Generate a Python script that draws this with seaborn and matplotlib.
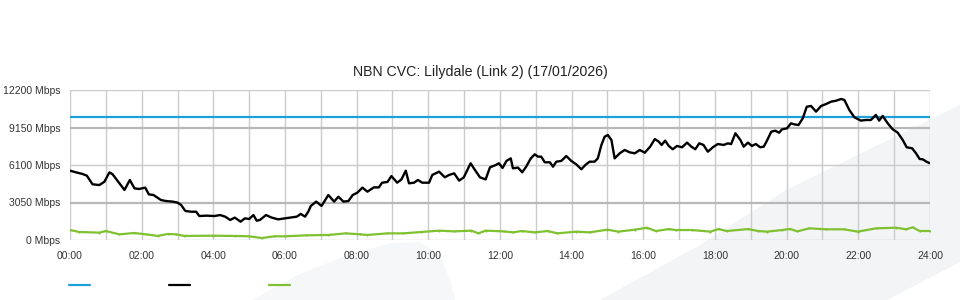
import matplotlib
matplotlib.use("Agg")
import matplotlib.pyplot as plt
from matplotlib.patches import Polygon
from matplotlib.lines import Line2D
import seaborn as sns
import pandas as pd

# ---------------- data ----------------
title = "NBN CVC: Lilydale (Link 2) (17/01/2026)"
capacity_mbps = 10000

traffic_hours = [
    0.00, 0.17, 0.35, 0.47, 0.63, 0.82, 0.96, 1.10, 1.19, 1.38, 1.52, 1.67, 1.80, 1.93,
    2.10, 2.20, 2.33, 2.54, 2.68, 2.87, 3.00, 3.10, 3.22, 3.38, 3.52, 3.61, 3.80, 4.03,
    4.19, 4.33, 4.47, 4.60, 4.76, 4.88, 5.00, 5.12, 5.21, 5.30, 5.47, 5.63, 5.81, 6.00,
    6.19, 6.33, 6.44, 6.56, 6.65, 6.72, 6.87, 7.02, 7.21, 7.37, 7.49, 7.63, 7.77, 7.89,
    8.02, 8.16, 8.30, 8.48, 8.62, 8.71, 8.86, 8.97, 9.13, 9.25, 9.37, 9.46, 9.60, 9.71,
    9.83, 10.02, 10.11, 10.30, 10.46, 10.58, 10.72, 10.86, 10.99, 11.18, 11.27, 11.44,
    11.60, 11.72, 11.88, 11.97, 12.07, 12.18, 12.30, 12.36, 12.50, 12.62, 12.73, 12.86,
    12.97, 13.06, 13.15, 13.25, 13.39, 13.48, 13.57, 13.71, 13.85, 13.99, 14.13, 14.27,
    14.38, 14.50, 14.64, 14.73, 14.83, 14.92, 15.01, 15.11, 15.20, 15.34, 15.48, 15.62,
    15.76, 15.90, 16.04, 16.19, 16.32, 16.43, 16.51, 16.61, 16.71, 16.82, 16.94, 17.08,
    17.22, 17.34, 17.45, 17.56, 17.68, 17.80, 17.94, 18.08, 18.24, 18.36, 18.45, 18.57,
    18.71, 18.80, 18.92, 19.03, 19.14, 19.26, 19.36, 19.45, 19.57, 19.68, 19.79, 19.87,
    20.01, 20.12, 20.21, 20.33, 20.45, 20.56, 20.68, 20.82, 20.96, 21.10, 21.24, 21.38,
    21.52, 21.61, 21.75, 21.89, 22.07, 22.21, 22.35, 22.49, 22.58, 22.68, 22.82, 22.96,
    23.10, 23.24, 23.35, 23.50, 23.61, 23.71, 23.80, 23.90, 24.00,
]
traffic_mbps = [
    5640, 5500, 5370, 5230, 4530, 4470, 4740, 5500, 5340, 4610, 4070, 4880, 4200, 4150,
    4260, 3710, 3660, 3250, 3170, 3120, 3040, 2850, 2360, 2300, 2300, 1950, 1980, 1950,
    2030, 1900, 1630, 1820, 1490, 1760, 1710, 2030, 1570, 1630, 2030, 1820, 1680, 1760,
    1840, 1900, 2120, 1900, 2310, 2770, 3120, 2770, 3660, 3120, 3520, 3120, 3170, 3660,
    3850, 4260, 3930, 4280, 4280, 4660, 4720, 5200, 4660, 4930, 5640, 4610, 4660, 4880,
    4660, 4660, 5290, 5560, 5100, 5290, 5420, 4830, 5100, 6240, 5830, 5100,
    4930, 5910, 6100, 6240, 5860, 6430, 6640, 5830, 5890, 5510, 5960, 6640,
    6970, 6780, 6780, 6320, 6320, 5960, 6370, 6430, 6830, 6430, 6150, 5750,
    6100, 6370, 6370, 6640, 7730, 8400, 8540, 8130, 6640, 7050, 7320, 7130,
    7050, 7320, 7100, 7590, 8210, 8000, 7730, 8080, 7650, 7380, 7650, 7540,
    7920, 7590, 7380, 7860, 7730, 7180, 7540, 7810, 7730, 7860, 7800, 8680,
    8130, 7590, 7920, 7650, 7810, 7540, 7590, 8080, 8810, 8890, 8730, 9000,
    9080, 9490, 9410, 9350, 9900, 10840, 10900, 10440, 10900, 11060, 11250, 11330,
    11470, 11390, 10570, 9980, 9710, 9760, 9760, 10170, 9710, 10090, 9490, 9000,
    8730, 8130, 7540, 7460, 7050, 6590, 6560, 6370, 6240,
]

other_hours = [
    0.00, 0.26, 0.82, 1.00, 1.38, 1.79, 2.12, 2.45, 2.73, 2.96, 3.19, 3.98, 4.60, 5.00,
    5.35, 5.70, 6.00, 6.60, 7.21, 7.70, 8.10, 8.30, 8.86, 9.30, 9.80, 10.30, 10.72, 11.20,
    11.40, 11.60, 12.10, 12.36, 12.60, 12.97, 13.33, 13.60, 14.13, 14.50, 15.00, 15.30,
    15.76, 16.10, 16.35, 16.71, 16.90, 17.36, 17.87, 18.10, 18.33, 18.93, 19.20, 19.45,
    19.87, 20.10, 20.30, 20.63, 21.10, 21.60, 21.98, 22.50, 23.06, 23.33, 23.52, 23.71,
    24.00,
]
other_mbps = [
    810, 650, 600, 730, 460, 570, 460, 330, 490, 460, 330, 350, 330, 300,
    160, 300, 300, 380, 410, 540, 460, 410, 540, 540, 650, 760, 700, 760,
    540, 760, 700, 620, 730, 620, 730, 540, 680, 620, 840, 680,
    840, 1000, 730, 890, 810, 810, 680, 890, 730, 890, 730, 680,
    810, 900, 700, 950, 870, 870, 680, 950, 1000, 870, 1030, 730,
    730,
]

capacity_hours = [0, 24]
y_ticks = [0, 3050, 6100, 9150, 12200]
y_tick_labels = ["0 Mbps", "3050 Mbps", "6100 Mbps", "9150 Mbps", "12200 Mbps"]
x_ticks = list(range(0, 25, 2))
x_tick_labels = [f"{h:02d}:00" for h in x_ticks]

# ---------------- style ----------------
sns.set_theme(style="white")
plt.rcParams["font.family"] = ["Liberation Sans", "DejaVu Sans"]

BLUE = "#1ea0dc"
BLACK = "#000000"
GREEN = "#7fc131"
GRID = "#cbcbcb"
GRID_DARK = "#b8b8b8"
TEXT = "#333333"

fig = plt.figure(figsize=(9.6, 3.0), dpi=100)
fig.patch.set_facecolor("white")

# decorative background swooshes (figure pixel coords, y from top)
def fig_poly(pts, color):
    poly = Polygon([(x / 960, 1 - y / 300) for x, y in pts], closed=True,
                   transform=fig.transFigure, facecolor=color, edgecolor="none", zorder=-10)
    fig.patches.append(poly)

fig_poly([(600, 300), (700, 245), (786, 190), (960, 105), (960, 262), (887, 300)], "#f3f4f6")
fig_poly([(252, 300), (300, 274), (350, 254), (392, 243), (420, 242), (440, 255),
          (450, 280), (455, 300)], "#f6f7f8")

ax = fig.add_axes([70 / 960, 1 - 240 / 300, 860 / 960, 150 / 300])
ax.set_facecolor("none")

df_traffic = pd.DataFrame({"hour": traffic_hours, "mbps": traffic_mbps})
df_other = pd.DataFrame({"hour": other_hours, "mbps": other_mbps})
df_cap = pd.DataFrame({"hour": capacity_hours, "mbps": [capacity_mbps] * len(capacity_hours)})

sns.lineplot(data=df_cap, x="hour", y="mbps", ax=ax, color=BLUE, linewidth=1.6, zorder=3)
sns.lineplot(data=df_traffic, x="hour", y="mbps", ax=ax, color=BLACK, linewidth=1.7, zorder=4)
sns.lineplot(data=df_other, x="hour", y="mbps", ax=ax, color=GREEN, linewidth=1.6, zorder=4,
             marker="o", markersize=1.5, markeredgewidth=0)

ax.set_xlim(0, 24)
ax.set_ylim(0, 12200)
ax.set_xlabel("")
ax.set_ylabel("")

# grid
for h in range(0, 25):
    ax.axvline(h, color=GRID, linewidth=1.0, zorder=1)
for v in y_ticks:
    c = GRID_DARK if v in (3050, 9150) else GRID
    lw = 1.6 if v in (3050, 9150) else 1.0
    ax.axhline(v, color=c, linewidth=lw, zorder=1)

for s in ax.spines.values():
    s.set_visible(False)

ax.set_xticks(x_ticks)
ax.set_xticklabels(x_tick_labels)
ax.set_yticks(y_ticks)
ax.set_yticklabels(y_tick_labels)
ax.tick_params(axis="x", length=5.5, width=1, color=GRID, pad=2.5, labelsize=7.5, labelcolor=TEXT)
ax.tick_params(axis="y", length=0, pad=7, labelsize=7.5, labelcolor=TEXT)

# title centred on the figure (not the axes)
ax.set_title(title, fontsize=10.2, color="#222222", pad=10,
             x=(480 - 70) / 860, ha="center")

# legend (handles only, no text)
handles = [Line2D([], [], color=BLUE, linewidth=1.6),
           Line2D([], [], color=BLACK, linewidth=1.6),
           Line2D([], [], color=GREEN, linewidth=1.6)]
fig.legend(handles, ["", "", ""], ncol=3, frameon=False, fontsize=7.5,
           loc="center left", bbox_to_anchor=(69 / 960, 1 - 285.5 / 300),
           borderpad=0, borderaxespad=0, handlelength=2.0, handletextpad=0,
           columnspacing=7.6)

fig.savefig("out.png", dpi=100, facecolor="white")
